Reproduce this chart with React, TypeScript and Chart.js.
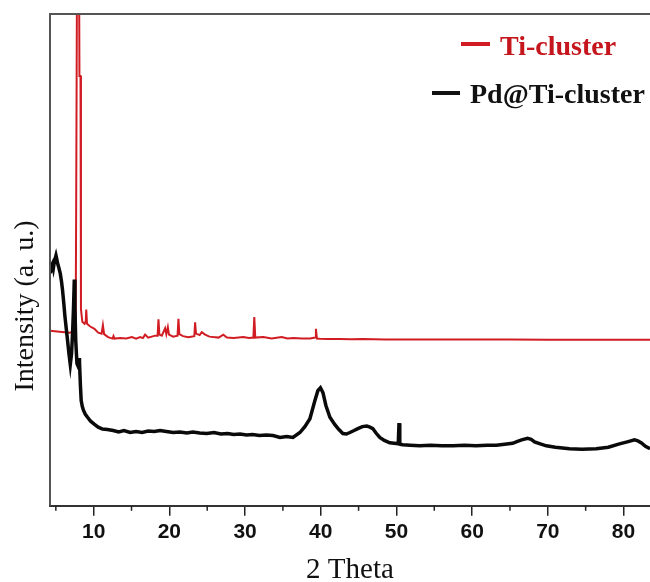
import { useEffect, useRef } from 'react';
import { Chart, registerables } from 'chart.js';

Chart.register(...registerables);

// ---- Data (2θ in degrees, intensity in arbitrary units) ----
const tiClusterX = [
  4.25, 5.5, 6.8, 7.4, 7.62, 7.68, 7.78, 7.94, 8.12, 8.26, 8.32, 8.5, 8.8, 8.95, 9.02, 9.12,
  9.5, 10.1, 10.6, 11.05, 11.22, 11.38, 11.9, 12.5, 12.62, 12.75, 13.5, 14.3, 15.05, 15.6,
  16.14, 16.5, 16.8, 17.2, 18.12, 18.45, 18.56, 18.68, 19.0, 19.44, 19.6, 19.8, 19.95, 20.5,
  21.08, 21.2, 21.32, 21.8, 22.5, 23.3, 23.4, 23.52, 24.0, 24.28, 24.72, 25.3, 25.81, 26.5,
  27.13, 27.6, 28.5, 29.77, 30.5, 31.1, 31.22, 31.35, 32.41, 33.5, 34.84, 35.6, 36.37, 37.5,
  38.6, 39.25, 39.36, 39.5, 39.89, 41, 42.5, 44, 45.5, 47, 48.5, 50, 55, 60, 65, 70, 75, 80, 83.5,
];
const tiClusterY = [
  35.6, 35.4, 35.2, 35.4, 36.2, 57.6, 57.6, 170, 87.4, 87.4, 40.0, 37.4, 37.0, 37.5, 39.9, 37.0,
  36.5, 36.0, 35.2, 35.0, 36.7, 34.9, 34.3, 34.0, 34.5, 34.0, 34.1, 34.0, 34.3, 34.0,
  34.3, 34.1, 34.8, 34.2, 34.6, 34.6, 37.9, 34.8, 34.6, 36.1, 34.9, 36.3, 34.8, 34.4,
  34.6, 38.0, 34.9, 34.5, 34.3, 34.5, 37.3, 35.0, 34.7, 35.3, 34.8, 34.4, 34.3, 34.2,
  34.8, 34.2, 34.1, 34.3, 34.1, 34.2, 38.4, 34.2, 34.3, 34.0, 34.3, 34.0, 34.1, 34.0,
  34.0, 34.2, 36.0, 34.0, 33.95, 33.9, 33.9, 33.85, 33.9, 33.85, 33.8, 33.8, 33.8, 33.8, 33.8, 33.75, 33.75, 33.75, 33.75,
];

const pdTiClusterX = [
  4.27, 4.45, 4.57, 4.68, 4.8, 5.02, 5.12, 5.23, 5.4, 5.59, 5.75, 5.89, 6.05, 6.21, 6.38, 6.55,
  6.72, 6.91, 7.08, 7.22, 7.34, 7.44, 7.52, 7.63, 7.79, 7.96, 8.08, 8.13, 8.25, 8.35, 8.5, 8.66,
  8.9, 9.19, 9.6, 10.07, 10.6, 11.17, 11.8, 12.58, 13.3, 14.0, 14.82, 15.6, 16.4, 17.2, 18.0,
  18.78, 19.6, 20.5, 21.4, 22.3, 23.1, 24.0, 24.94, 25.9, 26.8, 27.7, 28.5, 29.34, 30.2, 31.0,
  31.9, 32.8, 33.69, 34.61, 35.5, 36.33, 37.25, 37.9, 38.57, 39.23, 39.62, 39.96, 40.29, 40.68,
  41.21, 41.87, 42.4, 42.92, 43.4, 43.85, 44.4, 44.9, 45.5, 46.09, 46.5, 46.88, 47.3, 47.8,
  48.4, 49.12, 49.7, 50.24, 50.34, 50.44, 50.84, 51.8, 53.08, 54.5, 56.0, 57.5, 59.0, 60.5,
  62.0, 63.2, 64.3, 65.35, 66.0, 66.54, 67.33, 67.8, 68.25, 69.0, 69.8, 71.0, 72.87, 74.5,
  76.39, 78.0, 79.47, 80.5, 81.45, 81.9, 82.37, 82.9, 83.5,
];
const pdTiClusterY = [
  47.3, 48.9, 49.3, 48.4, 49.6, 50.9, 50.2, 49.3, 48.4, 47.2, 45.6, 43.8, 41.2, 38.4, 36.0, 33.6,
  31.1, 28.7, 31.0, 35.5, 40.4, 46.0, 40.5, 33.6, 28.9, 28.3, 30.0, 29.1, 24.4, 21.4, 20.2, 19.4,
  18.6, 18.0, 17.2, 16.6, 16.0, 15.6, 15.5, 15.3, 15.0, 15.3, 14.9, 15.1, 14.9, 15.2, 15.1,
  15.3, 15.1, 14.9, 15.0, 14.8, 15.0, 14.8, 14.7, 14.9, 14.6, 14.7, 14.5, 14.6, 14.4, 14.5,
  14.3, 14.4, 14.3, 13.9, 14.1, 13.9, 14.9, 16.1, 17.7, 21.4, 23.4, 24.0, 23.0, 20.4,
  18.0, 16.5, 15.5, 14.7, 14.6, 14.9, 15.3, 15.7, 16.1, 16.2, 16.0, 15.7, 14.8, 13.9,
  13.3, 12.8, 12.7, 12.6, 16.8, 12.5, 12.4, 12.3, 12.2, 12.3, 12.2, 12.2, 12.3, 12.2,
  12.3, 12.3, 12.5, 12.7, 13.1, 13.4, 13.7, 13.5, 13.0, 12.6, 12.2, 11.9, 11.6, 11.5,
  11.6, 11.9, 12.6, 13.0, 13.4, 13.2, 12.8, 12.1, 11.6,
];

const majorTicks = [10, 20, 30, 40, 50, 60, 70, 80];
const minorTicks = [5, 15, 25, 35, 45, 55, 65, 75];

const xMin = 4.23;
const xMax = 83.5;

const xTitle = '2 Theta';
const yTitle = 'Intensity (a. u.)';

const legendItems = [
  { label: 'Ti-cluster', color: '#d01c22', textColor: '#c4161c' },
  { label: 'Pd@Ti-cluster', color: '#111111', textColor: '#111111' },
];

const toPoints = (xs: number[], ys: number[]) => xs.map((x, i) => ({ x, y: ys[i] }));

const decorPlugin = {
  id: 'decor',
  afterDraw(chart: any) {
    const { ctx, chartArea: a } = chart;
    const xs = chart.scales.x;
    ctx.save();
    // frame: left and top
    ctx.strokeStyle = '#555555';
    ctx.lineWidth = 2;
    ctx.beginPath();
    ctx.moveTo(a.left, a.bottom);
    ctx.lineTo(a.left, a.top);
    ctx.lineTo(a.right, a.top);
    ctx.stroke();
    // minor ticks
    ctx.strokeStyle = '#222222';
    ctx.lineWidth = 1.5;
    minorTicks.forEach((v) => {
      const px = xs.getPixelForValue(v);
      ctx.beginPath();
      ctx.moveTo(px, a.bottom);
      ctx.lineTo(px, a.bottom + 5);
      ctx.stroke();
    });
    // x axis title
    ctx.font = '29px "Liberation Serif"';
    ctx.fillStyle = '#111111';
    ctx.textAlign = 'center';
    ctx.textBaseline = 'middle';
    ctx.fillText(xTitle, (a.left + a.right) / 2, 570);
    // y axis title
    ctx.save();
    ctx.translate(26, 306);
    ctx.rotate(-Math.PI / 2);
    ctx.font = '28px "Liberation Serif"';
    ctx.fillStyle = '#111111';
    ctx.textAlign = 'center';
    ctx.textBaseline = 'middle';
    ctx.fillText(yTitle, 0, 0);
    ctx.restore();
    // legend
    const pos = [
      { lx1: 461, lx2: 490, ly: 44, tx: 500, ty: 48 },
      { lx1: 432, lx2: 460, ly: 93, tx: 470, ty: 96 },
    ];
    legendItems.forEach((it, i) => {
      const p = pos[i];
      ctx.strokeStyle = it.color;
      ctx.lineWidth = 4;
      ctx.beginPath();
      ctx.moveTo(p.lx1, p.ly);
      ctx.lineTo(p.lx2, p.ly);
      ctx.stroke();
      ctx.font = 'bold 28px "Liberation Serif"';
      ctx.fillStyle = it.textColor;
      ctx.textAlign = 'left';
      ctx.textBaseline = 'middle';
      ctx.fillText(it.label, p.tx, p.ty);
    });
    ctx.restore();
  },
};

export default function App() {
  const ref = useRef<HTMLCanvasElement | null>(null);
  useEffect(() => {
    if (!ref.current) return;
    const chart = new Chart(ref.current, {
      type: 'line',
      data: {
        datasets: [
          {
            label: 'Pd@Ti-cluster',
            data: toPoints(pdTiClusterX, pdTiClusterY),
            borderColor: '#0a0a0a',
            borderWidth: 3.5,
            pointRadius: 0,
            tension: 0,
            order: 0,
            clip: 0 as any,
          },
          {
            label: 'Ti-cluster',
            data: toPoints(tiClusterX, tiClusterY),
            borderColor: '#d01c22',
            borderWidth: 2,
            pointRadius: 0,
            tension: 0,
            order: 1,
            clip: 0 as any,
          },
        ],
      },
      options: {
        responsive: false,
        animation: false,
        layout: { padding: { left: 50, top: 14, right: 0, bottom: 33 } },
        plugins: { legend: { display: false }, tooltip: { enabled: false } },
        scales: {
          x: {
            type: 'linear',
            min: xMin,
            max: xMax,
            afterBuildTicks: (scale: any) => {
              scale.ticks = majorTicks.map((v) => ({ value: v }));
            },
            grid: {
              drawOnChartArea: false,
              drawTicks: true,
              tickLength: 10,
              color: '#222222',
              lineWidth: 1.5,
            },
            border: { display: true, color: '#333333', width: 2 },
            ticks: {
              autoSkip: false,
              maxRotation: 0,
              padding: 4,
              color: '#111111',
              font: { family: '"Liberation Sans", Arial, sans-serif', size: 21, weight: 'bold' },
              callback: (v: any) => String(v),
            },
            title: { display: false },
          },
          y: {
            display: false,
            min: 0,
            max: 100,
          },
        },
      },
      plugins: [decorPlugin],
    });
    return () => chart.destroy();
  }, []);
  return (
    <div style={{ position: 'fixed', left: 0, top: 0, width: 650, height: 582, background: '#fff' }}>
      <canvas ref={ref} width={650} height={582} style={{ display: 'block' }} />
    </div>
  );
}
